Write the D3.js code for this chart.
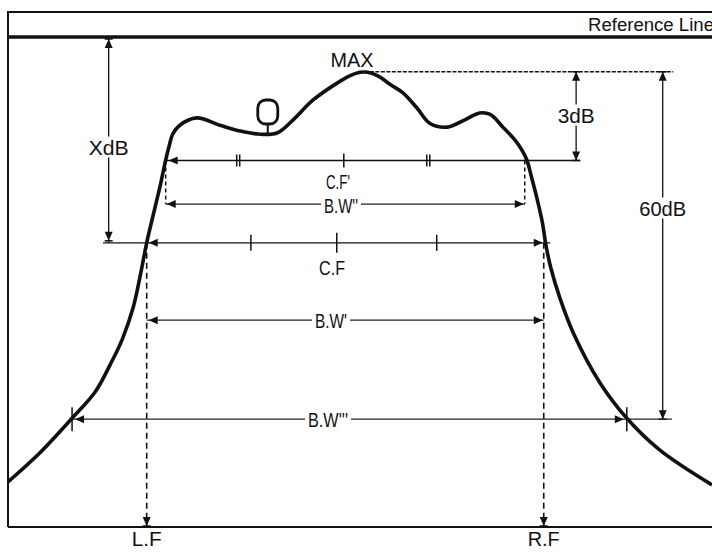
<!DOCTYPE html>
<html><head><meta charset="utf-8">
<script src="https://cdn.jsdelivr.net/npm/d3@7"></script>
<style>body{margin:0;background:#fff}svg{display:block}</style>
</head><body><svg id="c" width="712" height="553"></svg>
<script>
// ---- data (frequency in relative units 0..100, level in relative units, 100 = reference line) ----
const freq  = [0.0, 4.5, 9.1, 12.4, 14.5, 16.2, 17.8, 18.8, 19.7, 20.9, 21.7, 22.4, 22.9, 23.4, 24.4, 26.8, 30.1, 33.0, 35.5, 38.2, 40.5, 43.3, 47.2, 48.6, 50.0, 51.1, 52.6, 54.3, 56.1, 58.1, 59.9, 62.4, 64.9, 67.0, 68.5, 70.3, 72.0, 73.0, 73.7, 74.4, 75.1, 75.9, 76.4, 77.1, 78.4, 80.3, 84.1, 87.9, 92.6, 100.0];
const level = [9.2, 15.1, 22.2, 27.6, 33.1, 38.2, 44.9, 51.4, 58.0, 65.3, 70.2, 74.9, 77.8, 80.2, 82.0, 83.5, 82.0, 80.8, 80.2, 80.4, 83.1, 87.1, 91.0, 92.1, 92.8, 92.8, 92.0, 90.3, 88.6, 85.5, 82.4, 81.6, 83.1, 84.5, 84.2, 81.6, 79.0, 76.9, 74.9, 71.2, 67.3, 62.2, 57.6, 52.9, 46.7, 39.6, 29.4, 22.2, 15.7, 8.6];

const refLevel = 100, maxLevel = 92.9, level3dB = 74.8, levelBW2 = 65.9, levelX = 58.0, levelBW1 = 42.2, level60 = 22.0;
const fLF = 19.7, fRF = 76.1;          // L.F / R.F (X dB points)
const f3L = 22.4, f3R = 73.4;          // 3 dB points
const f60L = 9.1, f60R = 87.9;         // 60 dB points
const cfTicks = [34.5, 46.7, 60.9];
const cfpTicks = [47.7];
const cfpDouble = [32.7, 59.7];
const qFreq = 36.9, qLevel = 80.2;

const labelText = {ref: "Reference Line", max: "MAX", xdb: "XdB", db3: "3dB", db60: "60dB",
  cfp: "C.F'", bw2: "B.W''", cf: "C.F", bw1: "B.W'", bw3: "B.W'''", lf: "L.F", rf: "R.F"};

// ---- scales ----
const x = d3.scaleLinear().domain([0, 100]).range([8, 712]);
const y = d3.scaleLinear().domain([0, 100]).range([527, 37]);

const svg = d3.select("#c");
const FONT = "'Liberation Sans', Arial, sans-serif";
const ink = "#111";

// frame
svg.append("line").attr("x1", 8).attr("x2", 712).attr("y1", y(refLevel) - 25).attr("y2", y(refLevel) - 25).attr("stroke", ink).attr("stroke-width", 2);
svg.append("line").attr("x1", 8).attr("x2", 712).attr("y1", y(refLevel)).attr("y2", y(refLevel)).attr("stroke", ink).attr("stroke-width", 3.5);
svg.append("line").attr("x1", 8).attr("x2", 8).attr("y1", y(refLevel) - 26).attr("y2", y(0)).attr("stroke", ink).attr("stroke-width", 2);
svg.append("line").attr("x1", 8).attr("x2", 712).attr("y1", y(0)).attr("y2", y(0)).attr("stroke", ink).attr("stroke-width", 2);

svg.append("text").attr("x", 588).attr("y", y(refLevel) - 6).attr("font-family", FONT).attr("font-size", 18)
  .attr("textLength", 126).attr("lengthAdjust", "spacingAndGlyphs").attr("fill", ink).text(labelText.ref);

const g = svg.append("g");

function hline(f1, f2, lv, opts = {}) {
  g.append("line").attr("x1", x(f1)).attr("x2", x(f2)).attr("y1", y(lv)).attr("y2", y(lv))
    .attr("stroke", opts.color || ink).attr("stroke-width", opts.w || 1.3)
    .attr("stroke-dasharray", opts.dash || null);
}
function vline(f, l1, l2, opts = {}) {
  g.append("line").attr("x1", x(f)).attr("x2", x(f)).attr("y1", y(l1)).attr("y2", y(l2))
    .attr("stroke", opts.color || ink).attr("stroke-width", opts.w || 1.3)
    .attr("stroke-dasharray", opts.dash || null);
}
function arrow(px, py, dir) {
  const L = 9, W = 4;
  let pts;
  if (dir === "l") pts = [[px, py], [px + L, py - W], [px + L, py + W]];
  if (dir === "r") pts = [[px, py], [px - L, py - W], [px - L, py + W]];
  if (dir === "u") pts = [[px, py], [px - W, py + L], [px + W, py + L]];
  if (dir === "d") pts = [[px, py], [px - W, py - L], [px + W, py - L]];
  g.append("path").attr("d", "M" + pts.map(p => p.join(",")).join("L") + "Z").attr("fill", ink);
  if (dir === "u" || dir === "d") {
    g.append("line").attr("x1", px - W).attr("x2", px + W).attr("y1", py).attr("y2", py).attr("stroke", ink).attr("stroke-width", 1.5);
  }
}
function tick(f, lv, h, dx = 0) {
  g.append("line").attr("x1", x(f) + dx).attr("x2", x(f) + dx).attr("y1", y(lv) - h).attr("y2", y(lv) + h)
    .attr("stroke", ink).attr("stroke-width", 1.5);
}
function label(txt, cx, cy, w, opts = {}) {
  const fs = opts.fs || 21;
  if (opts.bg) {
    g.append("rect").attr("x", cx - w / 2 - 3).attr("y", cy - fs * 0.5).attr("width", w + 6).attr("height", fs)
      .attr("fill", "#fff");
  }
  g.append("text").attr("x", cx).attr("y", cy + fs * 0.36).attr("text-anchor", "middle")
    .attr("font-family", FONT).attr("font-size", fs).attr("fill", ink)
    .attr("textLength", w).attr("lengthAdjust", "spacingAndGlyphs").text(txt);
}

// MAX dotted line
hline(51.4, 94.5, maxLevel, {w: 1.5, dash: "4,1.5"});

// X dB arrow
vline(14.3, refLevel, levelX);
arrow(x(14.3), y(refLevel) + 2, "u");
arrow(x(14.3), y(levelX) - 2, "d");

// X dB level line (C.F)
hline(13.5, 77.0, levelX);
arrow(x(fLF) + 2, y(levelX), "l");
arrow(x(fRF) - 1, y(levelX), "r");
cfTicks.forEach((f, i) => tick(f, levelX, i === 1 ? 10 : 8));

// 3 dB level line (C.F')
hline(f3L, 81.3, level3dB);
arrow(x(f3L) + 3, y(level3dB), "l");
cfpTicks.forEach(f => tick(f, level3dB, 7));
cfpDouble.forEach(f => { tick(f, level3dB, 6, -1.5); tick(f, level3dB, 6, 1.5); });

// 3 dB arrow
vline(80.7, maxLevel, level3dB);
arrow(x(80.7), y(maxLevel), "u");
arrow(x(80.7), y(level3dB), "d");

// B.W'' with short dashed drops
vline(f3L, level3dB, levelBW2, {dash: "4,3", w: 1.5});
vline(f3R, level3dB, levelBW2, {dash: "4,3", w: 1.5});
hline(f3L, f3R, levelBW2, {color: "#222", w: 1.2});
arrow(x(f3L) + 1, y(levelBW2), "l");
arrow(x(f3R) - 1, y(levelBW2), "r");

// L.F / R.F dashed drops
vline(fLF, levelX, 0, {dash: "6,4", w: 1.6});
vline(fRF, levelX, 0, {dash: "6,4", w: 1.6});
arrow(x(fLF), y(0) - 1, "d");
arrow(x(fRF), y(0) - 1, "d");

// B.W'
hline(fLF, fRF, levelBW1, {color: "#222", w: 1.2});
arrow(x(fLF) + 2, y(levelBW1), "l");
arrow(x(fRF) - 1, y(levelBW1), "r");

// 60 dB arrow & B.W'''
vline(93.0, maxLevel, level60);
arrow(x(93.0), y(maxLevel), "u");
arrow(x(93.0), y(level60), "d");
hline(f60L, 94.3, level60, {color: "#222", w: 1.2});
arrow(x(f60L) + 3, y(level60), "l");
arrow(x(f60R) - 3, y(level60), "r");
tick(f60L, level60, 12);
tick(f60R, level60, 12);

// response curve
const pts = freq.map((f, i) => [f, level[i]]);
g.append("path").datum(pts)
  .attr("d", d3.line().x(d => x(d[0])).y(d => y(d[1])).curve(d3.curveCatmullRom.alpha(0.5)))
  .attr("fill", "none").attr("stroke", ink).attr("stroke-width", 3.6).attr("stroke-linejoin", "round");

// Q marker
g.append("line").attr("x1", x(qFreq)).attr("x2", x(qFreq)).attr("y1", y(qLevel) - 10).attr("y2", y(qLevel))
  .attr("stroke", ink).attr("stroke-width", 2);
g.append("rect").attr("x", x(qFreq) - 10).attr("y", y(qLevel) - 34).attr("width", 20).attr("height", 24)
  .attr("rx", 8).attr("ry", 8).attr("fill", "#fff").attr("stroke", ink).attr("stroke-width", 2.8);

// labels
label(labelText.max, 352, 59, 43);
label(labelText.xdb, x(14.3), 147, 40, {bg: true});
label(labelText.db3, x(80.7), 115, 37, {bg: true});
label(labelText.db60, x(93.0), 208, 47, {bg: true});
label(labelText.cfp, 338, 181, 24);
label(labelText.bw2, 341, 205, 34, {bg: true});
label(labelText.cf, 332, 267, 26);
label(labelText.bw1, 331, 320, 32, {bg: true});
label(labelText.bw3, 328, 419, 40, {bg: true});
label(labelText.lf, x(fLF), 539, 30, {fs: 20});
label(labelText.rf, x(fRF), 539, 32, {fs: 20});
</script></body></html>
